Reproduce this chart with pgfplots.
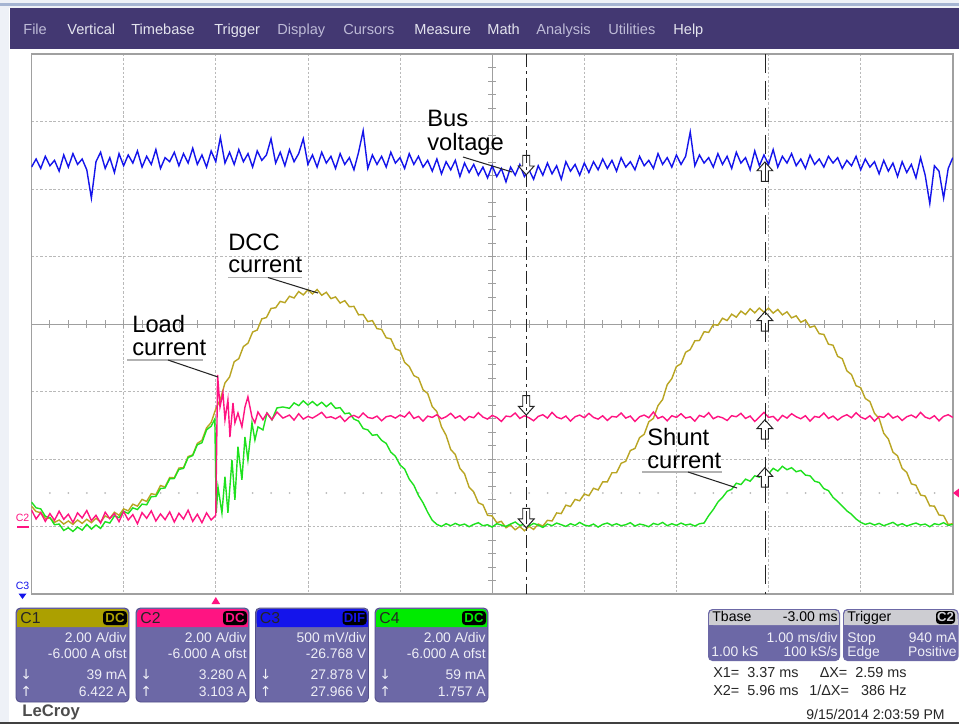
\documentclass[border=0pt]{standalone}
\usepackage{pgfplots}
\pgfplotsset{compat=1.18}
\usepackage{pgfplotstable}
\usepackage{fontspec}
\setmainfont{Liberation Sans}
\newfontfamily\symfont{DejaVu Sans}

\definecolor{menubar}{RGB}{67,56,114}
\definecolor{menutext}{RGB}{228,228,238}
\definecolor{menudim}{RGB}{190,187,215}
\definecolor{boxbody}{RGB}{108,104,166}
\definecolor{boxedge}{RGB}{82,78,138}
\definecolor{boxtext}{RGB}{238,238,246}
\definecolor{hdgray}{RGB}{205,205,210}
\definecolor{cone}{RGB}{185,165,35}
\definecolor{conehd}{RGB}{172,160,0}
\definecolor{ctwo}{RGB}{255,20,130}
\definecolor{cthree}{RGB}{20,20,235}
\definecolor{cfour}{RGB}{30,225,30}
\definecolor{cfourhd}{RGB}{0,235,0}
\definecolor{gridc}{RGB}{185,185,185}
\definecolor{framec}{RGB}{160,160,160}
\definecolor{cursc}{RGB}{35,35,35}
\definecolor{topbg}{RGB}{238,241,247}
\definecolor{topline}{RGB}{165,180,210}

% cursor markers (hollow block arrows)
\pgfdeclareplotmark{cdown}{%
  \pgfpathmoveto{\pgfqpoint{0pt}{0pt}}%
  \pgfpathlineto{\pgfqpoint{-4.5pt}{5pt}}%
  \pgfpathlineto{\pgfqpoint{-2pt}{5pt}}%
  \pgfpathlineto{\pgfqpoint{-2pt}{11pt}}%
  \pgfpathlineto{\pgfqpoint{2pt}{11pt}}%
  \pgfpathlineto{\pgfqpoint{2pt}{5pt}}%
  \pgfpathlineto{\pgfqpoint{4.5pt}{5pt}}%
  \pgfpathclose\pgfusepathqfillstroke}
\pgfdeclareplotmark{cup}{%
  \pgfpathmoveto{\pgfqpoint{0pt}{0pt}}%
  \pgfpathlineto{\pgfqpoint{-4.5pt}{-5pt}}%
  \pgfpathlineto{\pgfqpoint{-2pt}{-5pt}}%
  \pgfpathlineto{\pgfqpoint{-2pt}{-11pt}}%
  \pgfpathlineto{\pgfqpoint{2pt}{-11pt}}%
  \pgfpathlineto{\pgfqpoint{2pt}{-5pt}}%
  \pgfpathlineto{\pgfqpoint{4.5pt}{-5pt}}%
  \pgfpathclose\pgfusepathqfillstroke}

\tikzset{
  px/.style={x=0.02cm, y=-0.02cm},
  boxfont/.style={inner sep=0pt, text=boxtext, font=\fontsize{7.9}{8}\selectfont},
  menu/.style={inner sep=0pt, anchor=base west, font=\fontsize{8.3}{9}\selectfont},
  note/.style={inner sep=0pt, anchor=base west, font=\fontsize{13.5}{14}\selectfont},
  gridline/.style={gridc, line width=0.5pt, dash pattern=on 1.4pt off 1.1pt},
  centerline/.style={gray!75, line width=0.5pt},
}

% channel info box: x0, colour, name, badge, four lines
\newcommand{\chbox}[8]{%
  \fill[boxbody,rounded corners=2.5] (#1,608) rectangle (#1+113,702);
  \draw[boxedge,rounded corners=2.5,line width=0.5pt] (#1,608) rectangle (#1+113,702);
  \fill[#2,rounded corners=2.5] (#1+1,609) rectangle (#1+112,627);
  \fill[#2] (#1+1,620) rectangle (#1+112,627);
  \fill[black,rounded corners=2] (#1+87,611) rectangle (#1+111,625);
  \node[inner sep=0pt,anchor=base west,text=black!85,font=\fontsize{9}{9}\selectfont] at (#1+4,623.5) {#3};
  \node[inner sep=0pt,anchor=base,text=#2,font=\fontsize{7.5}{8}\selectfont\bfseries] at (#1+99,622) {#4};
  \node[boxfont,anchor=base east] at (#1+111,642) {#5};
  \node[boxfont,anchor=base east] at (#1+111,658) {#6};
  \node[boxfont,anchor=base east] at (#1+111,679) {#7};
  \node[boxfont,anchor=base east] at (#1+111,696) {#8};
  \node[boxfont,anchor=base west] at (#1+4,679) {\symfont ↓};
  \node[boxfont,anchor=base west] at (#1+4,696) {\symfont ↑};
}

\begin{document}

% C1: DCC current (A), time in ms from trigger
\pgfplotstableread[row sep=\\]{
t i\\
-2.00 0.60\\ -1.95 0.44\\ -1.90 0.41\\ -1.85 0.24\\ -1.80 0.25\\ -1.75 0.12\\ -1.70 0.19\\ -1.65 0.07\\ -1.60 0.16\\ -1.55 0.06\\
-1.50 0.19\\ -1.45 0.09\\ -1.40 0.21\\ -1.35 0.11\\ -1.30 0.24\\ -1.25 0.13\\ -1.20 0.31\\ -1.15 0.24\\ -1.10 0.42\\ -1.05 0.33\\
-1.00 0.52\\ -0.95 0.46\\ -0.90 0.66\\ -0.85 0.60\\ -0.80 0.80\\ -0.75 0.74\\ -0.70 0.97\\ -0.65 0.94\\ -0.60 1.21\\ -0.55 1.17\\
-0.50 1.45\\ -0.45 1.44\\ -0.40 1.73\\ -0.35 1.74\\ -0.30 2.07\\ -0.25 2.12\\ -0.20 2.46\\ -0.15 2.55\\ -0.10 2.92\\ -0.05 3.08\\
0.00 3.48\\ 0.05 3.77\\ 0.10 4.25\\ 0.15 4.43\\ 0.20 4.88\\ 0.25 4.97\\ 0.30 5.33\\ 0.35 5.43\\ 0.40 5.76\\ 0.45 5.82\\
0.50 6.15\\ 0.55 6.19\\ 0.60 6.46\\ 0.65 6.48\\ 0.70 6.67\\ 0.75 6.63\\ 0.80 6.82\\ 0.85 6.77\\ 0.90 6.96\\ 0.95 6.86\\
1.00 7.01\\ 1.05 6.89\\ 1.10 7.02\\ 1.15 6.85\\ 1.20 6.94\\ 1.25 6.75\\ 1.30 6.80\\ 1.35 6.62\\ 1.40 6.69\\ 1.45 6.51\\
1.50 6.52\\ 1.55 6.27\\ 1.60 6.28\\ 1.65 6.07\\ 1.70 6.10\\ 1.75 5.86\\ 1.80 5.84\\ 1.85 5.59\\ 1.90 5.56\\ 1.95 5.26\\
2.00 5.21\\ 2.05 4.86\\ 2.10 4.74\\ 2.15 4.47\\ 2.20 4.40\\ 2.25 4.05\\ 2.30 3.94\\ 2.35 3.55\\ 2.40 3.40\\ 2.45 2.95\\
2.50 2.70\\ 2.55 2.28\\ 2.60 2.13\\ 2.65 1.72\\ 2.70 1.56\\ 2.75 1.16\\ 2.80 1.02\\ 2.85 0.70\\ 2.90 0.64\\ 2.95 0.33\\
3.00 0.31\\ 3.05 0.11\\ 3.10 0.15\\ 3.15 -0.04\\ 3.20 0.04\\ 3.25 -0.10\\ 3.30 0.00\\ 3.35 -0.13\\ 3.40 0.00\\ 3.45 -0.09\\
3.50 0.07\\ 3.55 0.01\\ 3.60 0.18\\ 3.65 0.16\\ 3.70 0.40\\ 3.75 0.38\\ 3.80 0.63\\ 3.85 0.59\\ 3.90 0.80\\ 3.95 0.76\\
4.00 0.96\\ 4.05 0.91\\ 4.10 1.13\\ 4.15 1.08\\ 4.20 1.32\\ 4.25 1.32\\ 4.30 1.59\\ 4.35 1.59\\ 4.40 1.87\\ 4.45 1.93\\
4.50 2.25\\ 4.55 2.31\\ 4.60 2.63\\ 4.65 2.73\\ 4.70 3.10\\ 4.75 3.20\\ 4.80 3.58\\ 4.85 3.76\\ 4.90 4.20\\ 4.95 4.38\\
5.00 4.74\\ 5.05 4.82\\ 5.10 5.16\\ 5.15 5.24\\ 5.20 5.50\\ 5.25 5.51\\ 5.30 5.77\\ 5.35 5.75\\ 5.40 5.98\\ 5.45 5.96\\
5.50 6.17\\ 5.55 6.10\\ 5.60 6.29\\ 5.65 6.20\\ 5.70 6.38\\ 5.75 6.28\\ 5.80 6.45\\ 5.85 6.33\\ 5.90 6.47\\ 5.95 6.35\\
6.00 6.47\\ 6.05 6.32\\ 6.10 6.43\\ 6.15 6.27\\ 6.20 6.36\\ 6.25 6.18\\ 6.30 6.24\\ 6.35 6.05\\ 6.40 6.12\\ 6.45 5.90\\
6.50 5.94\\ 6.55 5.71\\ 6.60 5.69\\ 6.65 5.40\\ 6.70 5.37\\ 6.75 5.04\\ 6.80 4.97\\ 6.85 4.61\\ 6.90 4.50\\ 6.95 4.17\\
7.00 4.11\\ 7.05 3.79\\ 7.10 3.70\\ 7.15 3.35\\ 7.20 3.20\\ 7.25 2.76\\ 7.30 2.59\\ 7.35 2.20\\ 7.40 2.09\\ 7.45 1.72\\
7.50 1.60\\ 7.55 1.26\\ 7.60 1.22\\ 7.65 0.93\\ 7.70 0.90\\ 7.75 0.61\\ 7.80 0.60\\ 7.85 0.34\\ 7.90 0.32\\ 7.95 0.06\\
8.00 0.08\\
}\tabCone

% C2: load current (A)
\pgfplotstableread[row sep=\\]{
t i\\
-2.00 0.49\\ -1.95 0.22\\ -1.90 0.41\\ -1.85 0.15\\ -1.80 0.38\\ -1.75 0.18\\ -1.70 0.45\\ -1.65 0.21\\ -1.60 0.36\\ -1.55 0.12\\
-1.50 0.40\\ -1.45 0.25\\ -1.40 0.47\\ -1.35 0.17\\ -1.30 0.33\\ -1.25 0.10\\ -1.20 0.42\\ -1.15 0.23\\ -1.10 0.38\\ -1.05 0.14\\
-1.00 0.44\\ -0.95 0.19\\ -0.90 0.35\\ -0.85 0.08\\ -0.80 0.41\\ -0.75 0.24\\ -0.70 0.46\\ -0.65 0.16\\ -0.60 0.37\\ -0.55 0.20\\
-0.50 0.43\\ -0.45 0.13\\ -0.40 0.39\\ -0.35 0.22\\ -0.30 0.48\\ -0.25 0.15\\ -0.20 0.36\\ -0.15 0.11\\ -0.10 0.40\\ -0.05 0.19\\
0.00 0.33\\ 0.02 4.49\\ 0.046 3.54\\ 0.078 3.96\\ 0.100 3.16\\ 0.132 3.75\\ 0.154 2.65\\ 0.187 3.66\\ 0.208 3.07\\ 0.241 3.36\\
0.284 2.95\\ 0.317 3.54\\ 0.349 3.84\\ 0.393 3.24\\ 0.425 3.07\\ 0.458 3.39\\ 0.512 3.16\\ 0.556 3.36\\ 0.610 3.16\\ 0.664 3.39\\
0.729 3.21\\ 0.80 3.30\\ 0.85 3.15\\ 0.90 3.34\\ 0.95 3.18\\
1.00 3.26\\ 1.05 3.21\\ 1.10 3.29\\ 1.15 3.38\\ 1.20 3.22\\ 1.25 3.25\\ 1.30 3.19\\ 1.35 3.27\\ 1.40 3.11\\ 1.45 3.24\\
1.50 3.29\\ 1.55 3.22\\ 1.60 3.36\\ 1.65 3.23\\ 1.70 3.20\\ 1.75 3.27\\ 1.80 3.13\\ 1.85 3.25\\ 1.90 3.28\\ 1.95 3.21\\
2.00 3.30\\ 2.05 3.24\\ 2.10 3.39\\ 2.15 3.20\\ 2.20 3.26\\ 2.25 3.12\\ 2.30 3.27\\ 2.35 3.23\\ 2.40 3.31\\ 2.45 3.19\\
2.50 3.25\\ 2.55 3.35\\ 2.60 3.21\\ 2.65 3.28\\ 2.70 3.14\\ 2.75 3.26\\ 2.80 3.22\\ 2.85 3.37\\ 2.90 3.24\\ 2.95 3.18\\
3.00 3.29\\ 3.05 3.23\\ 3.10 3.11\\ 3.15 3.27\\ 3.20 3.25\\ 3.25 3.36\\ 3.30 3.20\\ 3.35 3.28\\ 3.40 3.22\\ 3.45 3.13\\
3.50 3.26\\ 3.55 3.31\\ 3.60 3.21\\ 3.65 3.38\\ 3.70 3.24\\ 3.75 3.19\\ 3.80 3.27\\ 3.85 3.12\\ 3.90 3.25\\ 3.95 3.30\\
4.00 3.22\\ 4.05 3.35\\ 4.10 3.23\\ 4.15 3.18\\ 4.20 3.28\\ 4.25 3.14\\ 4.30 3.26\\ 4.35 3.24\\ 4.40 3.36\\ 4.45 3.21\\
4.50 3.27\\ 4.55 3.11\\ 4.60 3.25\\ 4.65 3.30\\ 4.70 3.22\\ 4.75 3.39\\ 4.80 3.20\\ 4.85 3.26\\ 4.90 3.13\\ 4.95 3.28\\
5.00 3.23\\ 5.05 3.34\\ 5.10 3.21\\ 5.15 3.25\\ 5.20 3.12\\ 5.25 3.29\\ 5.30 3.24\\ 5.35 3.37\\ 5.40 3.19\\ 5.45 3.26\\
5.50 3.22\\ 5.55 3.14\\ 5.60 3.28\\ 5.65 3.25\\ 5.70 3.35\\ 5.75 3.20\\ 5.80 3.27\\ 5.85 3.11\\ 5.90 3.24\\ 5.95 3.38\\
6.00 3.23\\ 6.05 3.26\\ 6.10 3.13\\ 6.15 3.29\\ 6.20 3.21\\ 6.25 3.34\\ 6.30 3.25\\ 6.35 3.19\\ 6.40 3.28\\ 6.45 3.12\\
6.50 3.26\\ 6.55 3.23\\ 6.60 3.36\\ 6.65 3.20\\ 6.70 3.27\\ 6.75 3.15\\ 6.80 3.25\\ 6.85 3.31\\ 6.90 3.22\\ 6.95 3.37\\
7.00 3.24\\ 7.05 3.18\\ 7.10 3.28\\ 7.15 3.12\\ 7.20 3.26\\ 7.25 3.23\\ 7.30 3.35\\ 7.35 3.21\\ 7.40 3.27\\ 7.45 3.14\\
7.50 3.25\\ 7.55 3.30\\ 7.60 3.22\\ 7.65 3.38\\ 7.70 3.24\\ 7.75 3.19\\ 7.80 3.28\\ 7.85 3.13\\ 7.90 3.26\\ 7.95 3.31\\
8.00 3.23\\
}\tabCtwo

% C3: bus voltage (V)
\pgfplotstableread[row sep=\\]{
t v\\
-2.00 27.93\\ -1.95 27.99\\ -1.90 27.92\\ -1.85 28.01\\ -1.80 27.94\\ -1.75 27.98\\ -1.70 27.90\\ -1.65 28.02\\ -1.60 27.93\\ -1.55 28.03\\
-1.50 27.95\\ -1.45 27.99\\ -1.40 27.91\\ -1.35 27.70\\ -1.30 27.97\\ -1.25 28.04\\ -1.20 27.92\\ -1.15 28.00\\ -1.10 27.89\\ -1.05 28.03\\
-1.00 27.94\\ -0.95 28.02\\ -0.90 27.96\\ -0.85 28.05\\ -0.80 27.93\\ -0.75 28.01\\ -0.70 27.95\\ -0.65 28.06\\ -0.60 27.92\\ -0.55 28.00\\
-0.50 27.97\\ -0.45 28.04\\ -0.40 27.94\\ -0.35 28.03\\ -0.30 27.96\\ -0.25 28.07\\ -0.20 27.95\\ -0.15 28.02\\ -0.10 27.93\\ -0.05 28.05\\
0.00 27.97\\ 0.05 28.15\\ 0.10 27.96\\ 0.15 28.04\\ 0.20 27.95\\ 0.25 28.06\\ 0.30 27.97\\ 0.35 28.03\\ 0.40 27.93\\ 0.45 28.05\\
0.50 27.98\\ 0.55 28.02\\ 0.60 28.14\\ 0.65 27.96\\ 0.70 28.04\\ 0.75 27.94\\ 0.80 28.06\\ 0.85 27.97\\ 0.90 28.03\\ 0.95 28.14\\
1.00 27.95\\ 1.05 28.02\\ 1.10 27.93\\ 1.15 28.04\\ 1.20 27.96\\ 1.25 28.01\\ 1.30 27.92\\ 1.35 28.03\\ 1.40 27.95\\ 1.45 28.00\\
1.50 27.91\\ 1.55 28.04\\ 1.60 28.20\\ 1.65 27.92\\ 1.70 28.02\\ 1.75 27.95\\ 1.80 28.01\\ 1.85 27.93\\ 1.90 28.04\\ 1.95 27.96\\
2.00 28.00\\ 2.05 27.92\\ 2.10 28.03\\ 2.15 27.95\\ 2.20 28.01\\ 2.25 27.93\\ 2.30 27.98\\ 2.35 27.90\\ 2.40 27.99\\ 2.45 27.88\\
2.50 27.97\\ 2.55 27.91\\ 2.60 27.98\\ 2.65 27.86\\ 2.70 27.96\\ 2.75 27.89\\ 2.80 27.95\\ 2.85 27.87\\ 2.90 27.93\\ 2.95 27.85\\
3.00 27.94\\ 3.05 27.86\\ 3.10 27.92\\ 3.15 27.82\\ 3.20 27.93\\ 3.25 27.87\\ 3.30 27.95\\ 3.35 27.86\\ 3.40 27.91\\ 3.45 27.84\\
3.50 27.94\\ 3.55 27.87\\ 3.60 27.96\\ 3.65 27.88\\ 3.70 27.94\\ 3.75 27.84\\ 3.80 27.97\\ 3.85 27.90\\ 3.90 27.95\\ 3.95 27.87\\
4.00 27.96\\ 4.05 27.89\\ 4.10 27.97\\ 4.15 27.91\\ 4.20 27.99\\ 4.25 27.92\\ 4.30 27.98\\ 4.35 27.90\\ 4.40 28.00\\ 4.45 27.93\\
4.50 27.97\\ 4.55 27.91\\ 4.60 28.01\\ 4.65 27.94\\ 4.70 27.98\\ 4.75 27.92\\ 4.80 28.03\\ 4.85 27.95\\ 4.90 28.00\\ 4.95 27.93\\
5.00 28.02\\ 5.05 27.95\\ 5.10 28.01\\ 5.15 28.19\\ 5.20 27.94\\ 5.25 28.02\\ 5.30 27.96\\ 5.35 28.00\\ 5.40 27.93\\ 5.45 28.03\\
5.50 27.95\\ 5.55 28.01\\ 5.60 27.92\\ 5.65 28.04\\ 5.70 27.96\\ 5.75 28.00\\ 5.80 27.91\\ 5.85 28.05\\ 5.90 27.94\\ 5.95 28.02\\
6.00 27.95\\ 6.05 28.06\\ 6.10 27.93\\ 6.15 28.01\\ 6.20 27.96\\ 6.25 28.03\\ 6.30 27.94\\ 6.35 27.99\\ 6.40 27.92\\ 6.45 28.02\\
6.50 27.95\\ 6.55 27.99\\ 6.60 27.93\\ 6.65 28.01\\ 6.70 27.96\\ 6.75 28.00\\ 6.80 27.92\\ 6.85 27.98\\ 6.90 27.94\\ 6.95 28.01\\
7.00 27.91\\ 7.05 27.99\\ 7.10 27.93\\ 7.15 27.97\\ 7.20 27.88\\ 7.25 27.98\\ 7.30 27.90\\ 7.35 27.96\\ 7.40 27.86\\ 7.45 27.97\\
7.50 27.89\\ 7.55 27.95\\ 7.60 27.85\\ 7.65 28.00\\ 7.70 27.87\\ 7.75 27.66\\ 7.80 27.94\\ 7.85 27.90\\ 7.90 27.70\\ 7.95 27.92\\
8.00 28.00\\
}\tabCthree

% C4: shunt current (A)
\pgfplotstableread[row sep=\\]{
t i\\
-2.00 0.72\\ -1.95 0.55\\ -1.90 0.52\\ -1.85 0.30\\ -1.80 0.26\\ -1.75 0.05\\ -1.70 0.07\\ -1.65 -0.12\\ -1.60 -0.04\\ -1.55 -0.15\\
-1.50 -0.02\\ -1.45 -0.11\\ -1.40 0.06\\ -1.35 -0.08\\ -1.30 0.04\\ -1.25 -0.06\\ -1.20 0.14\\ -1.15 0.10\\ -1.10 0.31\\ -1.05 0.26\\
-1.00 0.45\\ -0.95 0.38\\ -0.90 0.55\\ -0.85 0.50\\ -0.80 0.66\\ -0.75 0.64\\ -0.70 0.88\\ -0.65 0.89\\ -0.60 1.12\\ -0.55 1.14\\
-0.50 1.41\\ -0.45 1.42\\ -0.40 1.69\\ -0.35 1.72\\ -0.30 2.04\\ -0.25 2.10\\ -0.20 2.42\\ -0.15 2.48\\ -0.10 2.86\\ -0.05 2.97\\
-0.01 3.18\\ 0.005 0.40\\ 0.024 1.17\\ 0.067 0.40\\ 0.100 1.47\\ 0.132 0.40\\ 0.176 1.97\\ 0.208 0.79\\ 0.241 2.36\\ 0.284 1.38\\
0.317 2.65\\ 0.349 1.97\\ 0.393 3.07\\ 0.425 2.56\\ 0.458 2.95\\ 0.512 2.86\\ 0.556 3.36\\ 0.610 3.16\\ 0.664 3.51\\ 0.729 3.54\\
0.80 3.50\\ 0.85 3.66\\ 0.90 3.58\\ 0.95 3.72\\ 1.00 3.60\\ 1.05 3.70\\ 1.10 3.58\\ 1.15 3.68\\ 1.20 3.55\\ 1.25 3.66\\
1.30 3.50\\ 1.35 3.52\\ 1.40 3.34\\ 1.45 3.36\\ 1.50 3.18\\ 1.55 3.12\\ 1.60 2.90\\ 1.65 2.86\\ 1.70 2.70\\ 1.75 2.72\\
1.80 2.55\\ 1.85 2.46\\ 1.90 2.20\\ 1.95 2.08\\ 2.00 1.82\\ 2.05 1.70\\ 2.10 1.40\\ 2.15 1.22\\ 2.20 0.92\\ 2.25 0.70\\
2.30 0.42\\ 2.35 0.18\\ 2.40 0.06\\ 2.45 0.00\\ 2.50 0.08\\
2.55 0.02\\ 2.60 0.09\\ 2.65 0.03\\ 2.70 0.07\\ 2.75 -0.01\\ 2.80 0.06\\ 2.85 0.11\\ 2.90 0.02\\ 2.95 0.05\\ 3.00 -0.02\\
3.05 0.08\\ 3.10 0.04\\ 3.15 0.00\\ 3.20 0.07\\ 3.25 0.13\\ 3.30 0.03\\ 3.35 0.06\\ 3.40 0.01\\ 3.45 0.09\\ 3.50 0.04\\
3.55 -0.03\\ 3.60 0.07\\ 3.65 0.02\\ 3.70 0.10\\ 3.75 0.05\\ 3.80 0.00\\ 3.85 0.08\\ 3.90 0.03\\ 3.95 0.12\\ 4.00 0.04\\
4.05 0.01\\ 4.10 0.07\\ 4.15 -0.02\\ 4.20 0.06\\ 4.25 0.10\\ 4.30 0.03\\ 4.35 0.08\\ 4.40 0.02\\ 4.45 0.05\\ 4.50 0.11\\
4.55 0.01\\ 4.60 0.07\\ 4.65 0.04\\ 4.70 -0.01\\ 4.75 0.09\\ 4.80 0.05\\ 4.85 0.12\\ 4.90 0.02\\ 4.95 0.08\\ 5.00 0.03\\
5.05 0.10\\ 5.10 0.04\\ 5.15 0.07\\ 5.20 0.01\\ 5.25 0.08\\
5.30 0.10\\ 5.35 0.32\\ 5.40 0.50\\ 5.45 0.72\\ 5.50 0.86\\ 5.55 1.04\\ 5.60 1.10\\ 5.65 1.28\\ 5.70 1.24\\ 5.75 1.40\\
5.80 1.34\\ 5.85 1.50\\ 5.90 1.46\\ 5.95 1.62\\ 6.00 1.56\\ 6.05 1.72\\ 6.10 1.64\\ 6.15 1.78\\ 6.20 1.68\\ 6.25 1.74\\
6.30 1.62\\ 6.35 1.66\\ 6.40 1.52\\ 6.45 1.50\\ 6.50 1.34\\ 6.55 1.30\\ 6.60 1.12\\ 6.65 1.06\\ 6.70 0.86\\ 6.75 0.74\\
6.80 0.60\\ 6.85 0.46\\ 6.90 0.36\\ 6.95 0.22\\ 7.00 0.12\\ 7.05 0.06\\ 7.10 0.10\\
7.15 0.04\\ 7.20 0.09\\ 7.25 0.02\\ 7.30 0.07\\ 7.35 0.12\\ 7.40 0.03\\ 7.45 0.08\\ 7.50 0.01\\ 7.55 0.06\\ 7.60 0.10\\
7.65 0.04\\ 7.70 0.07\\ 7.75 -0.01\\ 7.80 0.08\\ 7.85 0.05\\ 7.90 0.11\\ 7.95 0.03\\ 8.00 0.06\\
}\tabCfour

\begin{tikzpicture}
% ---- background, menu bar, graticule (pixel units, y down) ----
\begin{scope}[px]
\path[use as bounding box] (0,0) rectangle (959,724);
\fill[white] (0,0) rectangle (959,724);
\fill[topbg] (0,0) rectangle (959,8);
\draw[topline, line width=1.2pt] (0,4.5) -- (959,4.5);
\fill[topbg] (0,8) rectangle (9,722);
\fill[menubar] (10,8) rectangle (959,49);
\node[menu,text=menudim] at (23,34) {File};
\node[menu,text=menutext] at (67,34) {Vertical};
\node[menu,text=menutext] at (131,34) {Timebase};
\node[menu,text=menutext] at (214,34) {Trigger};
\node[menu,text=menudim] at (277,34) {Display};
\node[menu,text=menudim] at (343,34) {Cursors};
\node[menu,text=menutext] at (414,34) {Measure};
\node[menu,text=menutext] at (487,34) {Math};
\node[menu,text=menudim] at (536,34) {Analysis};
\node[menu,text=menudim] at (608,34) {Utilities};
\node[menu,text=menutext] at (673,34) {Help};

\foreach \i in {1,2,3,4,6,7,8,9} \draw[gridline] ({31.5+\i*92.15},54) -- ++(0,540);
\foreach \j in {1,2,3,5,6,7} \draw[gridline] (31.5,{54+\j*67.5}) -- ++(921.5,0);
\draw[centerline] (492.25,54) -- (492.25,594);
\draw[centerline] (31.5,324) -- (953,324);
\foreach \k in {1,...,49} \draw[centerline] ({31.5+\k*18.43},320) -- ++(0,8);
\foreach \k in {1,...,39} \draw[centerline] (488.25,{54+\k*13.5}) -- ++(8,0);
\foreach \k in {1,...,49} \fill[gridc] ({31.5+\k*18.43},493) circle (1);
\draw[framec, line width=0.6pt] (31.5,54) rectangle (953,594);

% underlines of the labels (behind traces)
\draw[gray!60, line width=1pt] (228,277.5) -- (302,277.5);
\draw[gray!60, line width=1pt] (127,360) -- (203,360);
\draw[gray!60, line width=1pt] (642,472) -- (722,472);
\end{scope}

% ---- traces: x in ms from trigger, y in divisions ----
\begin{axis}[at={(0.63cm,-11.88cm)}, anchor=south west, scale only axis,
  width=18.43cm, height=10.8cm,
  xmin=-2, xmax=8, ymin=-4, ymax=4, hide axis, clip=true]
\addplot[cone, line width=0.8pt, y filter/.expression={(y-6)/2}] table[x=t,y=i] {\tabCone};
\addplot[cfour, line width=0.8pt, y filter/.expression={(y-6)/2}] table[x=t,y=i] {\tabCfour};
\addplot[ctwo, line width=0.8pt, y filter/.expression={(y-6)/2}] table[x=t,y=i] {\tabCtwo};
\addplot[cthree, line width=0.8pt, y filter/.expression={(y-26.768)/0.5}] table[x=t,y=v] {\tabCthree};
\addplot[only marks, mark=cdown, mark options={fill=white, draw=cursc, line width=0.55pt}]
  coordinates {(3.37,2.21) (3.37,-1.35) (3.37,-3.02)};
\addplot[only marks, mark=cup, mark options={fill=white, draw=cursc, line width=0.55pt}]
  coordinates {(5.96,2.40) (5.96,0.18) (5.96,-1.42) (5.96,-2.13)};
\end{axis}

% ---- overlays (pixel units) ----
\begin{scope}[px]
\draw[cursc, line width=0.9pt, dash pattern=on 7.4pt off 2.3pt on 1.7pt off 2.3pt] (526.3,54) -- (526.3,594);
\draw[cursc, line width=0.9pt, dash pattern=on 10.8pt off 4.5pt] (765.3,54) -- (765.3,594);

\node[inner sep=0pt, text=ctwo, font=\fontsize{6}{6}\selectfont] at (22.5,518) {C2};
\draw[ctwo, line width=1.1pt] (17,527) -- (29,527);
\node[inner sep=0pt, text=cthree, font=\fontsize{6}{6}\selectfont] at (22.5,586) {C3};
\fill[cthree] (22.5,599) -- (18.5,593.5) -- (26.5,593.5) -- cycle;
\fill[ctwo] (215.8,597) -- (211.5,604) -- (220.1,604) -- cycle;
\fill[ctwo] (953,493) -- (959,488.5) -- (959,497.5) -- cycle;

\node[note] at (427,126) {Bus};
\node[note] at (427,150) {voltage};
\draw[gray!30!black, line width=0.6pt] (463,157) -- (512,172);
\node[note] at (228,250) {DCC};
\node[note] at (228,272) {current};
\draw[gray!30!black, line width=0.6pt] (268,277.5) -- (318,293);
\node[note] at (132,332) {Load};
\node[note] at (132,355) {current};
\draw[gray!30!black, line width=0.6pt] (168,360) -- (218,377);
\node[note] at (647,445) {Shunt};
\node[note] at (647,468) {current};
\draw[gray!30!black, line width=0.6pt] (688,472) -- (737,488);

\chbox{16}{conehd}{C1}{DC}{2.00 A/div}{-6.000 A ofst}{39 mA}{6.422 A}
\chbox{136}{ctwo}{C2}{DC}{2.00 A/div}{-6.000 A ofst}{3.280 A}{3.103 A}
\chbox{255.5}{cthree}{C3}{DIF}{500 mV/div}{-26.768 V}{27.878 V}{27.966 V}
\chbox{375}{cfourhd}{C4}{DC}{2.00 A/div}{-6.000 A ofst}{59 mA}{1.757 A}

\fill[boxbody,rounded corners=2.5] (708,609) rectangle (840,661);
\fill[hdgray,rounded corners=2.5] (709,610) rectangle (839,625);
\fill[hdgray] (709,619) rectangle (839,625);
\node[inner sep=0pt,anchor=base west,font=\fontsize{8}{8}\selectfont] at (712,621) {Tbase};
\node[inner sep=0pt,anchor=base east,font=\fontsize{8}{8}\selectfont] at (838,621) {-3.00 ms};
\node[boxfont,anchor=base east] at (838,642) {1.00 ms/div};
\node[boxfont,anchor=base west] at (711,656) {1.00 kS};
\node[boxfont,anchor=base east] at (838,656) {100 kS/s};

\fill[boxbody,rounded corners=2.5] (843,609) rectangle (958.5,661);
\fill[hdgray,rounded corners=2.5] (844,610) rectangle (957.5,625);
\fill[hdgray] (844,619) rectangle (957.5,625);
\node[inner sep=0pt,anchor=base west,font=\fontsize{8}{8}\selectfont] at (847,621) {Trigger};
\fill[black,rounded corners=2] (936,611) rectangle (955,624);
\node[inner sep=0pt,anchor=base,text=hdgray,font=\fontsize{7.5}{8}\selectfont\bfseries] at (945.5,621) {C2};
\node[boxfont,anchor=base west] at (847,642) {Stop};
\node[boxfont,anchor=base east] at (957,642) {940 mA};
\node[boxfont,anchor=base west] at (847,656) {Edge};
\node[boxfont,anchor=base east] at (957,656) {Positive};

\node[inner sep=0pt,anchor=base west,text=black!85,font=\fontsize{8.2}{9}\selectfont] at (713,677) {X1= \ 3.37 ms};
\node[inner sep=0pt,anchor=base east,text=black!85,font=\fontsize{8.2}{9}\selectfont] at (907,677) {ΔX= \ 2.59 ms};
\node[inner sep=0pt,anchor=base west,text=black!85,font=\fontsize{8.2}{9}\selectfont] at (713,695) {X2= \ 5.96 ms};
\node[inner sep=0pt,anchor=base east,text=black!85,font=\fontsize{8.2}{9}\selectfont] at (907,695) {1/ΔX= \ \ 386 Hz};
\node[inner sep=0pt,anchor=base east,text=black!85,font=\fontsize{8}{9}\selectfont] at (945,719) {9/15/2014 2:03:59 PM};
\node[inner sep=0pt,anchor=base west,text=black!70,font=\fontsize{9.5}{10}\selectfont\bfseries] at (22,716) {\underline{LeCroy}};
\fill[black!75] (0,722) rectangle (959,724);
\end{scope}
\end{tikzpicture}
\end{document}
